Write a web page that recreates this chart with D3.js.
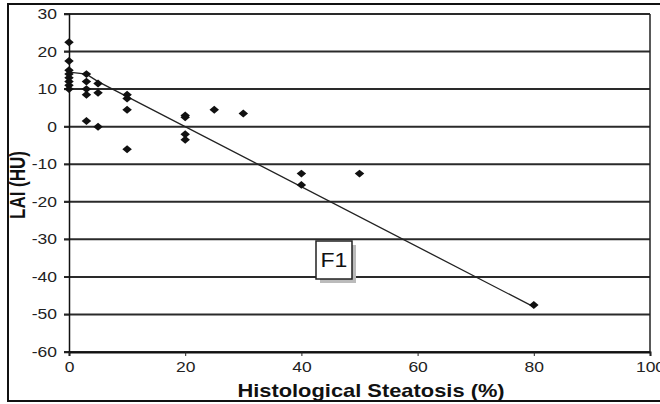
<!DOCTYPE html>
<html>
<head>
<meta charset="utf-8">
<script src="https://cdn.jsdelivr.net/npm/d3@7"></script>
<style>
  body { margin: 0; background: #fff; }
  svg { display: block; font-family: Arial, "Liberation Sans", sans-serif; }
</style>
</head>
<body>
<svg id="chart" width="660" height="404"></svg>
<script>
"use strict";
// values
var steatosis = [0, 0, 0, 0, 0, 0, 0, 0, 3, 3, 3, 3, 3, 5, 5, 5, 10, 10, 10, 10, 20, 20, 20, 20, 25, 30, 40, 40, 50, 80];
var lai = [22.5, 17.5, 15, 14, 13, 12, 11, 10, 14, 12, 10, 8.5, 1.5, 11.5, 9, 0, 8.5, 7.5, 4.5, -6, 3, 2.5, -2, -3.5, 4.5, 3.5, -12.5, -15.5, -12.5, -47.5];
var trendX = [0, 3, 5, 80];
var trendY = [14.5, 14, 12, -48];
var xTicks = [0, 20, 40, 60, 80, 100];
var yTicks = [30, 20, 10, 0, -10, -20, -30, -40, -50, -60];
var xTitle = "Histological Steatosis (%)";
var yTitle = "LAI (HU)";
var boxLabel = "F1";

var svg = d3.select("#chart");
var plotLeft = 69, plotRight = 650, plotTop = 14, plotBottom = 352;
// the scanned figure is stretched sideways, so text gets the same stretch
var stretch = "scale(1.25,1)";

var scalex = d3.scaleLinear().domain([0, 100]).range([plotLeft, plotRight]);
var scaley = d3.scaleLinear().domain([-60, 30]).range([plotBottom, plotTop]);

// outer frame (right side runs off the picture)
svg.append("rect")
    .attr("x", 8).attr("y", 4).attr("width", 670).attr("height", 397)
    .attr("fill", "none").attr("stroke", "#111").attr("stroke-width", 2);

// horizontal grid
svg.append("g").selectAll("line")
    .data(yTicks)
    .enter().append("line")
    .attr("x1", plotLeft - 5).attr("x2", plotRight)
    .attr("y1", function (d) { return scaley(d); })
    .attr("y2", function (d) { return scaley(d); })
    .attr("stroke", "#2a2a2a").attr("stroke-width", 2);

// right edge of plot area
svg.append("line")
    .attr("x1", plotRight).attr("x2", plotRight).attr("y1", plotTop).attr("y2", plotBottom)
    .attr("stroke", "#222").attr("stroke-width", 1.5);

// y axis, plain hyphen for negatives like the original
var yAxis = d3.axisLeft(scaley).tickValues(yTicks).tickSize(5)
    .tickFormat(function (d) { return String(d); });
var gy = svg.append("g").attr("transform", "translate(" + plotLeft + ",0)").call(yAxis);
gy.select(".domain").attr("stroke", "#111").attr("stroke-width", 1.5);
gy.selectAll(".tick line").attr("stroke", "#222");
gy.selectAll("text")
    .attr("x", 0)
    .attr("transform", "translate(-12,0) " + stretch)
    .attr("font-size", 14).attr("fill", "#222");

// x axis
var xAxis = d3.axisBottom(scalex).tickValues(xTicks).tickSize(4).tickPadding(6);
var gx = svg.append("g").attr("transform", "translate(0," + plotBottom + ")").call(xAxis);
gx.select(".domain").attr("stroke", "#111").attr("stroke-width", 2);
gx.selectAll(".tick line").attr("stroke", "#222");
gx.selectAll("text")
    .attr("transform", stretch)
    .attr("font-size", 14).attr("fill", "#222");

// trend line
var line = d3.line()
    .x(function (d) { return scalex(d[0]); })
    .y(function (d) { return scaley(d[1]); });
svg.append("path")
    .datum(d3.zip(trendX, trendY))
    .attr("d", line)
    .attr("fill", "none").attr("stroke", "#222").attr("stroke-width", 1.3);

// points
var diamond = d3.symbol().type(d3.symbolDiamond2).size(40);
svg.append("g").selectAll("path")
    .data(d3.zip(steatosis, lai))
    .enter().append("path")
    .attr("d", diamond)
    .attr("transform", function (d) { return "translate(" + scalex(d[0]) + "," + scaley(d[1]) + ") scale(1.2,1)"; })
    .attr("fill", "#111");

// F1 label box
var bx = 316, by = 241;
svg.append("rect")
    .attr("x", bx + 4).attr("y", by + 4).attr("width", 36).attr("height", 38)
    .attr("fill", "#bbb");
svg.append("rect")
    .attr("x", bx).attr("y", by).attr("width", 36).attr("height", 38)
    .attr("fill", "#fff").attr("stroke", "#222").attr("stroke-width", 1.5);
svg.append("text")
    .attr("transform", "translate(" + (bx + 18) + "," + (by + 26) + ") scale(1.15,1)")
    .attr("text-anchor", "middle").attr("font-size", 20).attr("fill", "#111")
    .text(boxLabel);

// titles
svg.append("text")
    .attr("transform", "translate(371,397) " + stretch)
    .attr("text-anchor", "middle").attr("font-size", 17.5).attr("font-weight", "bold").attr("fill", "#111")
    .text(xTitle);
svg.append("text")
    .attr("transform", "translate(25,185) " + stretch + " rotate(-90)")
    .attr("text-anchor", "middle").attr("font-size", 17).attr("font-weight", "bold").attr("fill", "#111")
    .text(yTitle);
</script>
</body>
</html>
